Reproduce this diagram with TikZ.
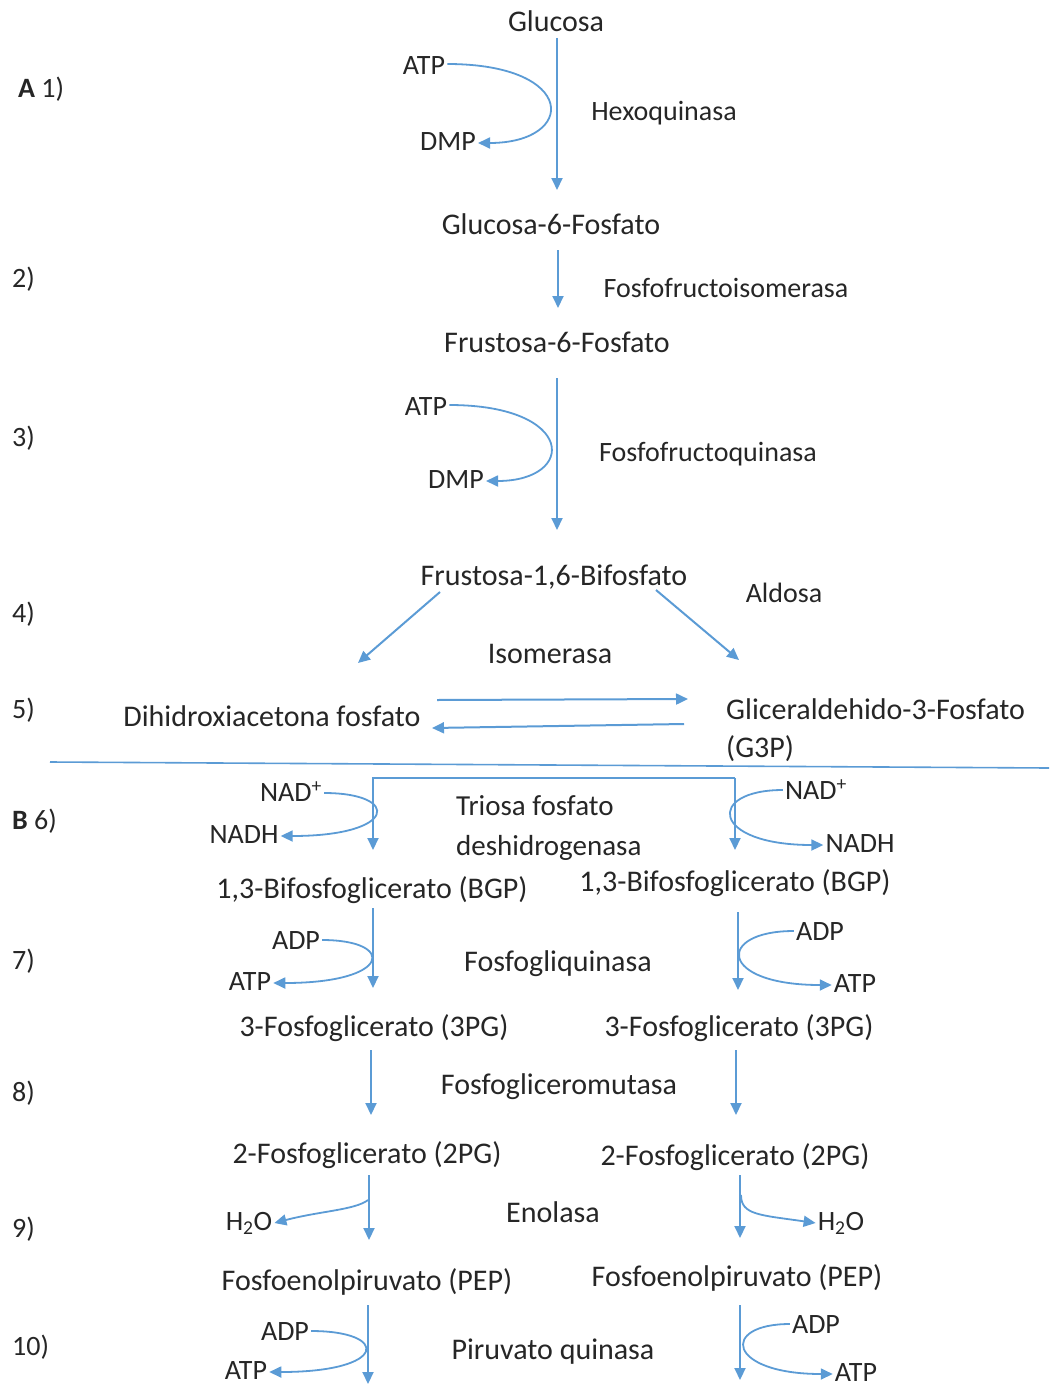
\documentclass[tikz,border=0pt]{standalone}
\usepackage{fontspec}
\setmainfont{Carlito}
\usetikzlibrary{arrows.meta}
\definecolor{flowblue}{HTML}{5B9BD5}
\definecolor{ink}{HTML}{262626}

\begin{document}
\begin{tikzpicture}[x=1pt, y=-1pt,
  every node/.style={text=ink, inner sep=2pt, text height=0.7em, text depth=0.2em},
  cmpd/.style={font=\fontsize{30}{38}\selectfont, yshift=-7pt},
  lbl/.style={font=\fontsize{28}{34}\selectfont, yshift=-7pt},
  flow/.style={draw=flowblue, line width=2pt, -{Triangle[length=12pt, width=11pt]}},
  side/.style={draw=flowblue, line width=1.8pt, -{Triangle[length=12pt, width=11pt]}},
  rule/.style={draw=flowblue, line width=1.6pt}
]
  \useasboundingbox (0,0) rectangle (1049,1386);

  % step numbers on the left margin
  \node[lbl, anchor=west] (stA) at (16,88) {\textbf{A} 1)};
  \node[lbl, anchor=west] (stB) at (10,820) {\textbf{B} 6)};
  \foreach \y/\t in {278/2), 437/3), 613/4), 709/5), 960/7), 1092/8), 1228/9), 1346/10)} {
    \node[lbl, anchor=west] (st\t) at (10,\y) {\t};
  }

  % part A: glucose to the trioses
  \node[cmpd] (glc)  at (556,22)  {Glucosa};
  \node[cmpd] (g6p)  at (551,225) {Glucosa-6-Fosfato};
  \node[cmpd] (f6p)  at (557,343) {Frustosa-6-Fosfato};
  \node[cmpd] (f16)  at (554,576) {Frustosa-1,6-Bifosfato};
  \node[cmpd] (dhap) at (272,717) {Dihidroxiacetona fosfato};
  \node[cmpd, anchor=west, align=left, text height=, text depth=] (g3p) at (724,723)
    {Gliceraldehido-3-Fosfato\\(G3P)};

  \node[lbl] (hexo) at (664,111) {Hexoquinasa};
  \node[lbl] (pfi)  at (726,288) {Fosfofructoisomerasa};
  \node[lbl] (pfk)  at (708,452) {Fosfofructoquinasa};
  \node[lbl] (aldo) at (784,593) {Aldosa};
  \node[cmpd] (isom) at (550,654) {Isomerasa};

  \node[lbl] (atpA) at (424,65)  {ATP};
  \node[lbl] (dmpA) at (448,141) {DMP};
  \node[lbl] (atpC) at (426,406) {ATP};
  \node[lbl] (dmpC) at (456,479) {DMP};

  \foreach \n/\xa/\ya/\xb/\yb in {1/557/38/557/190, 2/558/250/558/308, 3/557/378/557/530,
      4/440/592/358/663, 4b/656/590/739/660, 5/437/700/688/699, 5b/684/724/432/728} {
    \coordinate (s\n) at (\xa,\ya);
    \coordinate (e\n) at (\xb,\yb);
    \draw[flow] (s\n) -- (e\n);
  }

  \draw[side] ([yshift=8pt]atpA.east) .. controls +(131,0) and +(99,0) .. ([yshift=5pt]dmpA.east);
  \draw[side] ([yshift=8pt]atpC.east) .. controls +(127,0) and +(91,0) .. ([yshift=5pt]dmpC.east);

  % separator between A and B
  \coordinate (sepL) at (50,762);
  \coordinate (sepR) at (1049,768);
  \draw[rule] (sepL) -- (sepR);

  % part B: the two triose branches
  \node[lbl, anchor=west, align=left, text height=, text depth=, font=\fontsize{29}{40}\selectfont]
    (tpdh) at (454,821) {Triosa fosfato\\deshidrogenasa};
  \node[cmpd] (pgk) at (558,962)  {Fosfogliquinasa};
  \node[cmpd] (pgm) at (559,1085) {Fosfogliceromutasa};
  \node[cmpd] (eno) at (553,1213) {Enolasa};
  \node[cmpd] (pk)  at (553,1350) {Piruvato quinasa};

  \node[cmpd] (bgpL) at (372,889)  {1,3-Bifosfoglicerato (BGP)};
  \node[cmpd] (bgpR) at (735,882)  {1,3-Bifosfoglicerato (BGP)};
  \node[cmpd] (pg3L) at (374,1027) {3-Fosfoglicerato (3PG)};
  \node[cmpd] (pg3R) at (739,1027) {3-Fosfoglicerato (3PG)};
  \node[cmpd] (pg2L) at (367,1154) {2-Fosfoglicerato (2PG)};
  \node[cmpd] (pg2R) at (735,1156) {2-Fosfoglicerato (2PG)};
  \node[cmpd] (pepL) at (367,1281) {Fosfoenolpiruvato (PEP)};
  \node[cmpd] (pepR) at (737,1277) {Fosfoenolpiruvato (PEP)};

  \node[lbl] (nadL)   at (291,792)  {NAD\textsuperscript{+}};
  \node[lbl] (nadhL)  at (244,834)  {NADH};
  \node[lbl] (nadR)   at (816,790)  {NAD\textsuperscript{+}};
  \node[lbl] (nadhR)  at (860,843)  {NADH};
  \node[lbl] (adpL7)  at (296,940)  {ADP};
  \node[lbl] (atpL7)  at (250,981)  {ATP};
  \node[lbl] (adpR7)  at (820,931)  {ADP};
  \node[lbl] (atpR7)  at (855,983)  {ATP};
  \node[lbl] (h2oL)   at (249,1221) {H\textsubscript{2}O};
  \node[lbl] (h2oR)   at (841,1221) {H\textsubscript{2}O};
  \node[lbl] (adpL10) at (285,1331) {ADP};
  \node[lbl] (atpL10) at (246,1370) {ATP};
  \node[lbl] (adpR10) at (816,1324) {ADP};
  \node[lbl] (atpR10) at (856,1372) {ATP};

  % bracket from G3P into both branches
  \coordinate (brR) at (735,778);
  \coordinate (brL) at (373,778);
  \coordinate (e6) at (373,850);
  \coordinate (e6b) at (735,850);
  \draw[flow] (brR) -- (brL) -- (e6);
  \draw[flow] (brR) -- (e6b);

  \foreach \n/\x/\ya/\yb in {7/373/908/988, 7b/738/912/990, 8/371/1050/1115, 8b/736/1050/1115,
      9/369/1175/1240, 9b/740/1175/1238, 10/368/1305/1384, 10b/740/1305/1380} {
    \coordinate (s\n) at (\x,\ya);
    \coordinate (e\n) at (\x,\yb);
    \draw[flow] (s\n) -- (e\n);
  }

  % cofactor loops, left branch bends right, right branch bends left
  \draw[side] ([yshift=6pt]nadL.east)  .. controls +(77,0) and +(117,0) .. ([yshift=5pt]nadhL.east);
  \draw[side] ([yshift=7pt]adpL7.east) .. controls +(74,0) and +(119,0) .. ([yshift=5pt]atpL7.east);
  \draw[side] ([yshift=7pt]adpL10.east) .. controls +(79,0) and +(119,0) .. ([yshift=5pt]atpL10.east);
  \draw[side] ([yshift=7pt]nadR.west)  .. controls +(-77,0) and +(-113,0) .. ([yshift=5pt]nadhR.west);
  \draw[side] ([yshift=7pt]adpR7.west) .. controls +(-78,0) and +(-114,0) .. ([yshift=5pt]atpR7.west);
  \draw[side] ([yshift=7pt]adpR10.west) .. controls +(-70,0) and +(-106,0) .. ([yshift=5pt]atpR10.west);

  % water leaving at the enolase step
  \coordinate (wL) at (368,1200);
  \coordinate (wR) at (741,1195);
  \draw[side] (wL) .. controls (355,1210) and (320,1211) .. ([yshift=5pt]h2oL.east);
  \draw[side] (wR) .. controls (741,1215) and (760,1215) .. ([yshift=5pt]h2oR.west);
\end{tikzpicture}
\end{document}
